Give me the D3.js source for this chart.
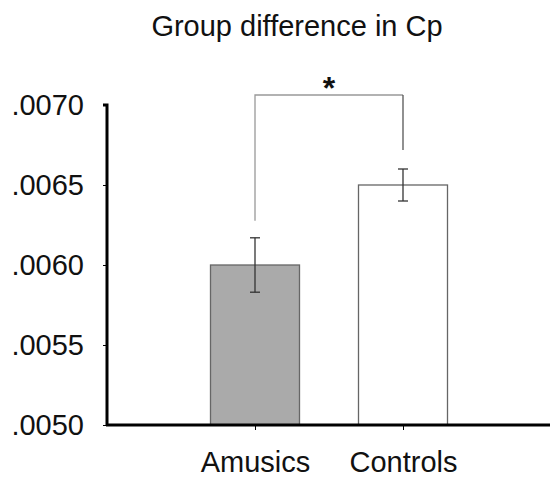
<!DOCTYPE html>
<html><head><meta charset="utf-8">
<script src="https://cdn.jsdelivr.net/npm/d3@7"></script>
<style>body{margin:0;background:#fff}svg{display:block}</style>
</head><body>
<script>
const categories = ["Amusics", "Controls"];
const means = [0.0060, 0.0065];
const errors = [0.00017, 0.0001];
const fills = ["#aaaaaa", "#ffffff"];
const yTicks = [0.0050, 0.0055, 0.0060, 0.0065, 0.0070];
const title = "Group difference in Cp";
const sigLabel = "*";

const W = 550, H = 477;
const svg = d3.select("body").append("svg").attr("width", W).attr("height", H);
const font = "Liberation Sans, Arial, sans-serif";

const y = d3.scaleLinear().domain([0.0050, 0.0070]).range([425, 105]);
const xc = d3.scalePoint().domain(categories).range([255, 403]);
const barW = 89;

svg.append("text").attr("x", 297).attr("y", 36).attr("text-anchor", "middle")
  .attr("font-family", font).attr("font-size", 29).attr("fill", "#111").text(title);

// bars
svg.selectAll("rect.bar").data(categories).enter().append("rect")
  .attr("x", d => xc(d) - barW/2).attr("width", barW)
  .attr("y", (d,i) => y(means[i])).attr("height", (d,i) => y(0.0050) - y(means[i]))
  .attr("fill", (d,i) => fills[i]).attr("stroke", "#666").attr("stroke-width", 1.3);

// error bars
const eb = svg.selectAll("g.eb").data(categories).enter().append("g").attr("stroke", "#333").attr("stroke-width", 1.3);
eb.append("line").attr("x1", d => xc(d)).attr("x2", d => xc(d))
  .attr("y1", (d,i) => y(means[i] + errors[i])).attr("y2", (d,i) => y(means[i] - errors[i]));
eb.append("line").attr("x1", d => xc(d) - 5).attr("x2", d => xc(d) + 5)
  .attr("y1", (d,i) => y(means[i] + errors[i])).attr("y2", (d,i) => y(means[i] + errors[i]));
eb.append("line").attr("x1", d => xc(d) - 5).attr("x2", d => xc(d) + 5)
  .attr("y1", (d,i) => y(means[i] - errors[i])).attr("y2", (d,i) => y(means[i] - errors[i]));

// y axis
const yAxis = d3.axisLeft(y).tickValues(yTicks).tickSize(4).tickPadding(19)
  .tickFormat(d => d3.format(".4f")(d).replace(/^0/, ""));
const gy = svg.append("g").attr("transform", "translate(107,0)").call(yAxis);
gy.select(".domain").attr("stroke", "#000").attr("stroke-width", 3).attr("d", "M-4,105H0V425");
gy.selectAll(".tick line").attr("stroke", "#000").attr("stroke-width", 1);
gy.selectAll(".tick text").attr("font-family", font).attr("font-size", 29).attr("fill", "#111");

// x axis
const xAxis = d3.axisBottom(xc).tickSize(5).tickPadding(21);
const gx = svg.append("g").attr("transform", "translate(0,425)").call(xAxis);
gx.select(".domain").attr("stroke", "#000").attr("stroke-width", 3).attr("d", "M106,0H550");
gx.selectAll(".tick line").attr("stroke", "#000").attr("stroke-width", 1);
gx.selectAll(".tick text").attr("font-family", font).attr("font-size", 29).attr("fill", "#111");

// significance bracket
const br = svg.append("g").attr("fill", "none").attr("stroke-width", 1.3);
br.append("path").attr("stroke", "#999")
  .attr("d", `M${xc(categories[0])},${y(means[0]+errors[0]) - 17}V95H${xc(categories[1])}`);
br.append("path").attr("stroke", "#555")
  .attr("d", `M${xc(categories[1])},95V${y(means[1]+errors[1]) - 19}`);
svg.append("text").attr("x", (xc(categories[0]) + xc(categories[1]))/2).attr("y", 99)
  .attr("text-anchor", "middle").attr("font-family", font).attr("font-weight", "bold")
  .attr("font-size", 32).attr("fill", "#111").text(sigLabel);
</script>
</body></html>
